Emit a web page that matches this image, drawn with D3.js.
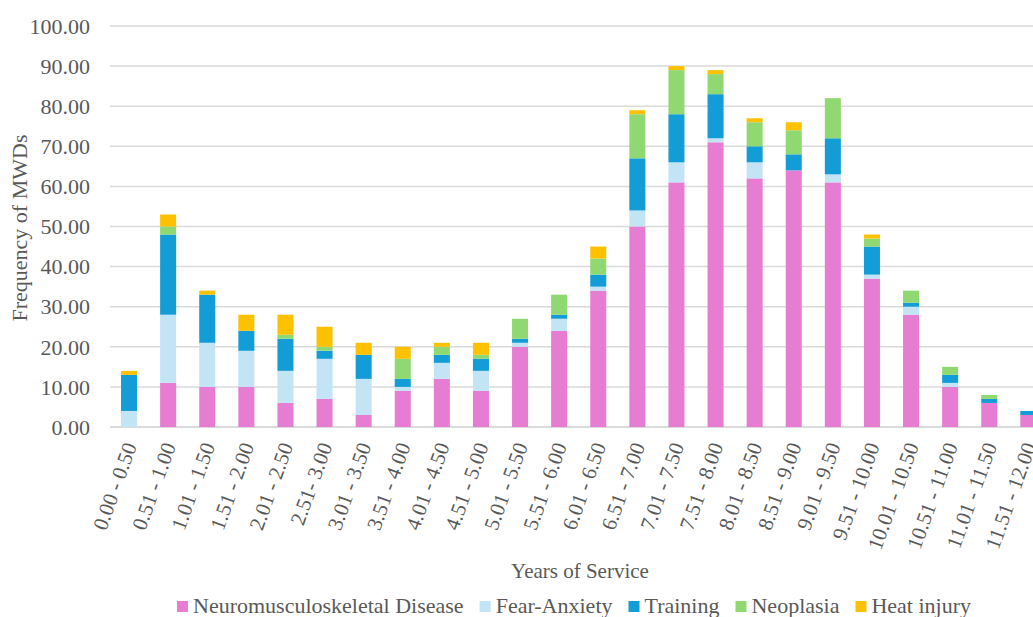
<!DOCTYPE html>
<html>
<head>
<meta charset="utf-8">
<script src="https://cdn.jsdelivr.net/npm/d3@7/dist/d3.min.js"></script>
<style>
  html, body { margin: 0; padding: 0; background: #fff; }
  svg { display: block; }
</style>
</head>
<body>
<svg id="chart" width="1033" height="617"></svg>
<script>
// Years-of-service bins
const categories = [
  "0.00 - 0.50", "0.51 - 1.00", "1.01 - 1.50", "1.51 - 2.00", "2.01 - 2.50", "2.51- 3.00",
  "3.01 - 3.50", "3.51 - 4.00", "4.01 - 4.50", "4.51 - 5.00", "5.01 - 5.50", "5.51 - 6.00",
  "6.01 - 6.50", "6.51 - 7.00", "7.01 - 7.50", "7.51 - 8.00", "8.01 - 8.50", "8.51 - 9.00",
  "9.01 - 9.50", "9.51 - 10.00", "10.01 - 10.50", "10.51 - 11.00", "11.01 - 11.50", "11.51 - 12.00"
];

// Frequency of MWDs per cause, one value per bin
const neuromusculoskeletal = [0, 11, 10, 10, 6, 7, 3, 9, 12, 9, 20, 24, 34, 50, 61, 71, 62, 64, 61, 37, 28, 10, 6, 3];
const fearAnxiety          = [4, 17, 11, 9, 8, 10, 9, 1, 4, 5, 1, 3, 1, 4, 5, 1, 4, 0, 2, 1, 2, 1, 0, 0];
const training             = [9, 20, 12, 5, 8, 2, 6, 2, 2, 3, 1, 1, 3, 13, 12, 11, 4, 4, 9, 7, 1, 2, 1, 1];
const neoplasia            = [0, 2, 0, 0, 1, 1, 0, 5, 2, 1, 5, 5, 4, 11, 11, 5, 6, 6, 10, 2, 3, 2, 1, 0];
const heatInjury           = [1, 3, 1, 4, 5, 5, 3, 3, 1, 3, 0, 0, 3, 1, 1, 1, 1, 2, 0, 1, 0, 0, 0, 0];

const seriesNames = ["Neuromusculoskeletal Disease", "Fear-Anxiety", "Training", "Neoplasia", "Heat injury"];
const seriesColors = ["#e77dd3", "#c3e4f5", "#139dd6", "#90d872", "#fdc100"];

const yTicks = [0, 10, 20, 30, 40, 50, 60, 70, 80, 90, 100];

const seriesValues = [neuromusculoskeletal, fearAnxiety, training, neoplasia, heatInjury];
const rows = categories.map((c, i) => {
  const r = { category: c };
  seriesNames.forEach((s, k) => { r[s] = seriesValues[k][i]; });
  return r;
});
const stacked = d3.stack().keys(seriesNames)(rows);

const W = 1033;
const svg = d3.select("#chart")
  .attr("font-family", "Liberation Serif, Times New Roman, serif")
  .attr("fill", "#595959");

const step = 39.1;
const x = d3.scaleBand()
  .domain(categories)
  .range([109.5, 109.5 + categories.length * step])
  .paddingInner(0.59)
  .paddingOuter(0.295);

const y = d3.scaleLinear().domain([0, 100]).range([427, 26]);

// horizontal gridlines
svg.append("g")
  .selectAll("line")
  .data(yTicks)
  .join("line")
  .attr("x1", 110)
  .attr("x2", W)
  .attr("y1", d => y(d))
  .attr("y2", d => y(d))
  .attr("stroke", d => d === 0 ? "#cfcfcf" : "#dadada")
  .attr("stroke-width", 1.5);

// y tick labels
svg.append("g")
  .selectAll("text")
  .data(yTicks)
  .join("text")
  .attr("x", 90)
  .attr("y", d => y(d))
  .attr("dy", "0.35em")
  .attr("text-anchor", "end")
  .attr("font-size", 22)
  .text(d => d3.format(".2f")(d));

// stacked bars
svg.append("g")
  .selectAll("g")
  .data(stacked)
  .join("g")
  .attr("fill", (d, i) => seriesColors[i])
  .selectAll("rect")
  .data(d => d)
  .join("rect")
  .attr("x", d => x(d.data.category))
  .attr("width", x.bandwidth())
  .attr("y", d => y(d[1]))
  .attr("height", d => y(d[0]) - y(d[1]));

// x tick labels, rotated
svg.append("g")
  .selectAll("text")
  .data(categories)
  .join("text")
  .attr("text-anchor", "end")
  .attr("transform", d => `translate(${x(d) + x.bandwidth() / 2 + 8},${446}) rotate(-70)`)
  .attr("font-size", 21)
  .text(d => d);

// axis titles
svg.append("text")
  .attr("transform", "translate(27,228) rotate(-90)")
  .attr("text-anchor", "middle")
  .attr("font-size", 22)
  .text("Frequency of MWDs");

svg.append("text")
  .attr("x", 580)
  .attr("y", 578)
  .attr("text-anchor", "middle")
  .attr("font-size", 21)
  .text("Years of Service");

// legend
const legend = svg.append("g");
let lx = 177;
seriesNames.forEach((name, i) => {
  legend.append("rect")
    .attr("x", lx)
    .attr("y", 601)
    .attr("width", 11)
    .attr("height", 11)
    .attr("fill", seriesColors[i]);
  const t = legend.append("text")
    .attr("x", lx + 16)
    .attr("y", 613)
    .attr("font-size", 22)
    .text(name);
  lx += 16 + t.node().getComputedTextLength() + 16;
});
</script>
</body>
</html>
